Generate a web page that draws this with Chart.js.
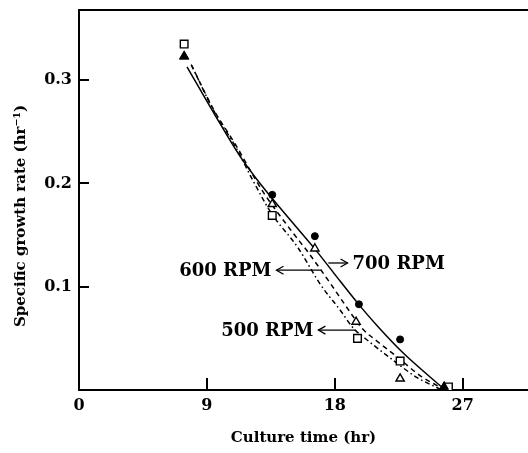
<!DOCTYPE html>
<html>

<head>
    <title>Specific growth rate</title>
    <script src="https://cdn.jsdelivr.net/npm/chart.js"></script>
    <style>
        html, body { margin: 0; padding: 0; background: #fff; }
        #wrap { width: 528px; height: 453px; }
    </style>
</head>

<body>
    <div id="wrap"><canvas id="growthChart"></canvas></div>
    <script>
        // tick labels
        var xTicks = [0, 9, 18, 27];
        var yTicks = [0.1, 0.2, 0.3];

        // measured points
        var circleX = [7.4, 13.6, 16.6, 19.7, 22.6, 25.7];   // 700 RPM
        var circleY = [0.323, 0.189, 0.149, 0.083, 0.049, 0.003];
        var triX = [7.4, 13.6, 16.6, 19.5, 22.6, 25.7];      // 600 RPM
        var triY = [0.323, 0.180, 0.137, 0.066, 0.011, 0.003];
        var squareX = [7.4, 13.6, 19.6, 22.6, 26.0];         // 500 RPM
        var squareY = [0.335, 0.169, 0.050, 0.028, 0.003];

        // fitted curves
        var curve700X = [7.6, 9.5, 11.35, 12.8, 15.1, 16.75, 18.4, 19.8, 21.0, 22.8, 25.6];
        var curve700Y = [0.313, 0.268, 0.226, 0.199, 0.161, 0.134, 0.105, 0.081, 0.062, 0.036, 0.002];
        var curve600X = [7.9, 9.5, 11.0, 12.9, 14.9, 16.2, 17.7, 19.0, 19.9, 21.0, 22.4, 24.0, 25.5];
        var curve600Y = [0.315, 0.271, 0.238, 0.193, 0.155, 0.132, 0.103, 0.077, 0.060, 0.047, 0.032, 0.014, 0.002];
        var curve500X = [7.9, 9.5, 11.0, 12.2, 13.5, 15.4, 17.0, 18.4, 19.3, 20.5, 21.9, 23.8, 25.4];
        var curve500Y = [0.315, 0.270, 0.236, 0.204, 0.172, 0.138, 0.102, 0.077, 0.060, 0.046, 0.031, 0.012, 0.001];

        function pts(xs, ys) {
            return xs.map((x, i) => ({ x: x, y: ys[i] }));
        }

        var FONT = "'DejaVu Serif', serif";

        // labels with arrows (text, arrow tail, arrow head in data units)
        var notes = [
            { text: '600 RPM', from: [17.0, 0.116], to: [13.9, 0.116], side: 'left' },
            { text: '700 RPM', from: [17.55, 0.123], to: [18.9, 0.123], side: 'right' },
            { text: '500 RPM', from: [19.45, 0.058], to: [16.85, 0.058], side: 'left' }
        ];

        var extras = {
            id: 'extras',
            afterDraw(chart) {
                const ctx = chart.ctx;
                const xs = chart.scales.x, ys = chart.scales.y;
                const a = chart.chartArea;
                ctx.save();
                ctx.strokeStyle = '#000';
                ctx.fillStyle = '#000';
                // top frame line
                ctx.lineWidth = 2;
                ctx.beginPath();
                ctx.moveTo(a.left - 1, a.top);
                ctx.lineTo(a.right, a.top);
                ctx.stroke();
                // inward ticks
                ctx.lineWidth = 2;
                xTicks.forEach(v => {
                    const px = Math.round(xs.getPixelForValue(v));
                    ctx.beginPath();
                    ctx.moveTo(px, a.bottom);
                    ctx.lineTo(px, a.bottom - 12);
                    ctx.stroke();
                });
                yTicks.forEach(v => {
                    const py = Math.round(ys.getPixelForValue(v));
                    ctx.beginPath();
                    ctx.moveTo(a.left, py);
                    ctx.lineTo(a.left + 10, py);
                    ctx.stroke();
                });
                // arrows and labels
                ctx.font = 'bold 18px ' + FONT;
                ctx.textBaseline = 'middle';
                ctx.lineWidth = 1.3;
                notes.forEach(n => {
                    const x1 = xs.getPixelForValue(n.from[0]), y1 = ys.getPixelForValue(n.from[1]);
                    const x2 = xs.getPixelForValue(n.to[0]), y2 = ys.getPixelForValue(n.to[1]);
                    ctx.beginPath();
                    ctx.moveTo(x1, y1);
                    ctx.lineTo(x2, y2);
                    ctx.stroke();
                    const dir = x2 > x1 ? 1 : -1;
                    ctx.beginPath();
                    ctx.moveTo(x2 - dir * 7, y2 - 4);
                    ctx.lineTo(x2, y2);
                    ctx.lineTo(x2 - dir * 7, y2 + 4);
                    ctx.stroke();
                    if (n.side === 'left') {
                        ctx.textAlign = 'right';
                        ctx.fillText(n.text, x2 - 5, y2 + 1);
                    } else {
                        ctx.textAlign = 'left';
                        ctx.fillText(n.text, x2 + 5, y2 + 1);
                    }
                });
                // y axis title
                ctx.translate(21, (a.top + a.bottom) / 2 + 16);
                ctx.rotate(-Math.PI / 2);
                ctx.textAlign = 'center';
                ctx.font = 'bold 15px ' + FONT;
                ctx.fillText('Specific growth rate (hr\u207B\u00B9)', 0, 0);
                ctx.restore();
            }
        };

        var lineStyle = { showLine: true, pointRadius: 0, fill: false, borderColor: '#000', borderWidth: 1.5, cubicInterpolationMode: 'monotone', order: 5 };

        var ctx = document.getElementById('growthChart').getContext('2d');
        var chart = new Chart(ctx, {
            type: 'scatter',
            data: {
                datasets: [
                    {
                        label: '700 RPM', data: pts(circleX, circleY), order: 0,
                        pointStyle: ['triangle', 'circle', 'circle', 'circle', 'circle', 'triangle'],
                        pointRadius: [5, 3.5, 3.5, 3.5, 3.5, 5],
                        backgroundColor: '#000', borderColor: '#000', borderWidth: 1
                    },
                    {
                        label: '600 RPM', data: pts(triX, triY), order: 2, pointStyle: 'triangle', pointRadius: 4.8,
                        backgroundColor: '#fff', borderColor: '#000', borderWidth: 1.4
                    },
                    {
                        label: '500 RPM', data: pts(squareX, squareY), order: 1, pointStyle: 'rect', pointRadius: 5.4,
                        backgroundColor: '#fff', borderColor: '#000', borderWidth: 1.4
                    },
                    Object.assign({ label: '700 RPM curve', data: pts(curve700X, curve700Y) }, lineStyle),
                    Object.assign({ label: '600 RPM curve', data: pts(curve600X, curve600Y), borderDash: [5, 4] }, lineStyle),
                    Object.assign({ label: '500 RPM curve', data: pts(curve500X, curve500Y), borderDash: [5, 3, 1.5, 3] }, lineStyle)
                ]
            },
            options: {
                responsive: true,
                maintainAspectRatio: false,
                animation: false,
                layout: { autoPadding: false, padding: { top: 10, right: 0, left: 0, bottom: 0 } },
                plugins: {
                    legend: { display: false },
                    tooltip: { enabled: false }
                },
                scales: {
                    x: {
                        type: 'linear',
                        min: 0,
                        max: 31.6,
                        afterBuildTicks: s => { s.ticks = xTicks.map(v => ({ value: v })); },
                        afterFit: s => { s.height = 63; s.paddingLeft = 0; s.paddingRight = 0; },
                        grid: { drawOnChartArea: false, drawTicks: false },
                        border: { color: '#000', width: 2 },
                        ticks: {
                            padding: 6,
                            color: '#000',
                            font: { family: FONT, size: 16, weight: 'bold' },
                            callback: v => String(v)
                        },
                        title: {
                            display: true,
                            text: 'Culture time (hr)',
                            color: '#000',
                            font: { family: FONT, size: 15, weight: 'bold' },
                            padding: { top: 0, bottom: 6 }
                        }
                    },
                    y: {
                        type: 'linear',
                        min: 0,
                        max: 0.368,
                        afterBuildTicks: s => { s.ticks = yTicks.map(v => ({ value: v })); },
                        afterFit: s => { s.width = 79; s.paddingTop = 0; s.paddingBottom = 0; },
                        grid: { drawOnChartArea: false, drawTicks: false },
                        border: { color: '#000', width: 2 },
                        ticks: {
                            padding: 7,
                            color: '#000',
                            font: { family: FONT, size: 16, weight: 'bold' },
                            callback: v => v.toFixed(1)
                        }
                    }
                }
            },
            plugins: [extras]
        });
    </script>
</body>

</html>
